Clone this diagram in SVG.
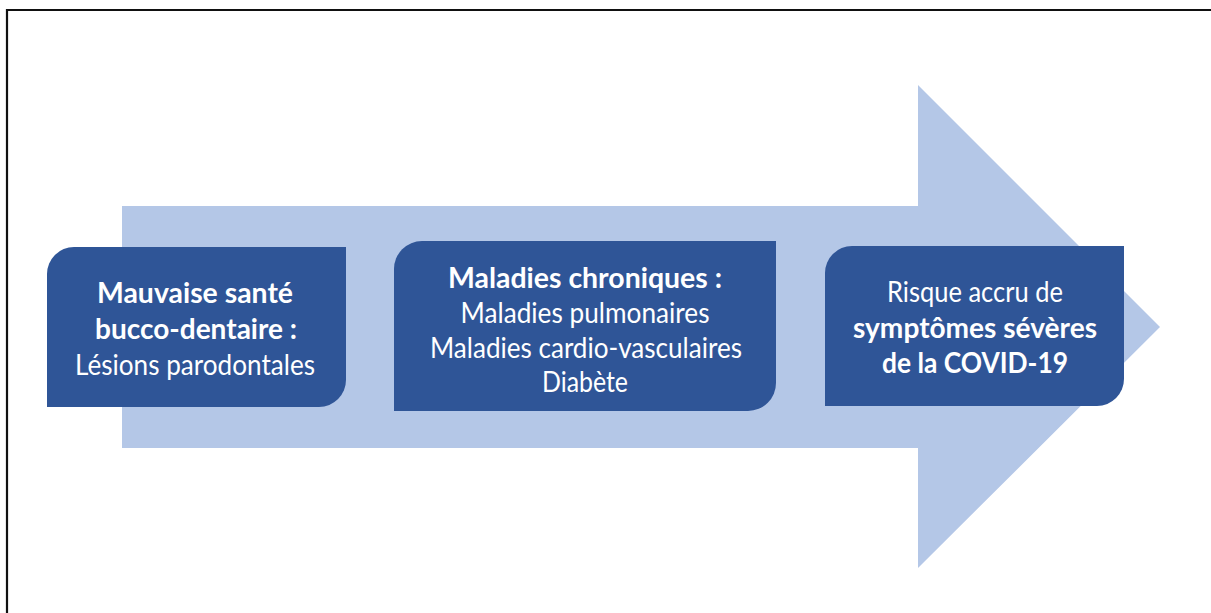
<svg xmlns="http://www.w3.org/2000/svg" width="1211" height="613" viewBox="0 0 1211 613">
<style>
.box{fill:#2F5597;}
.t{font-family:Lato,"Open Sans","Liberation Sans",sans-serif;font-size:28px;fill:#FFFFFF;text-anchor:middle;}
.b{font-weight:bold;}
</style>
<rect x="0" y="0" width="1211" height="613" fill="#FFFFFF"/>
<path d="M7 613 V10 H1211" fill="none" stroke="#111111" stroke-width="2.2"/>
<g id="connectors">
<path id="big-arrow" d="M122 206 H918 V85 L1160 327 L918 568 V448 H122 Z" fill="#B4C7E7"/>
</g>
<g id="node-sante">
<path class="box" d="M74 247 H346 V380 A27 27 0 0 1 319 407 H47 V274 A27 27 0 0 1 74 247 Z"/>
<text class="t b" x="195" y="303" textLength="196" lengthAdjust="spacingAndGlyphs">Mauvaise santé</text>
<text class="t b" x="196" y="339" textLength="202" lengthAdjust="spacingAndGlyphs">bucco-dentaire :</text>
<text class="t" x="195" y="375" textLength="240" lengthAdjust="spacingAndGlyphs">Lésions parodontales</text>
</g>
<g id="node-maladies">
<path class="box" d="M422 241 H776 V383 A28 28 0 0 1 748 411 H394 V269 A28 28 0 0 1 422 241 Z"/>
<text class="t b" x="585" y="288" textLength="274" lengthAdjust="spacingAndGlyphs">Maladies chroniques :</text>
<text class="t" x="585" y="323" textLength="249" lengthAdjust="spacingAndGlyphs">Maladies pulmonaires</text>
<text class="t" x="586" y="358" textLength="312" lengthAdjust="spacingAndGlyphs">Maladies cardio-vasculaires</text>
<text class="t" x="585" y="392" textLength="86" lengthAdjust="spacingAndGlyphs">Diabète</text>
</g>
<g id="node-covid">
<path class="box" d="M852 246 H1124 V379 A27 27 0 0 1 1097 406 H825 V273 A27 27 0 0 1 852 246 Z"/>
<text class="t" x="975" y="302" textLength="176" lengthAdjust="spacingAndGlyphs">Risque accru de</text>
<text class="t b" x="975" y="338" textLength="244" lengthAdjust="spacingAndGlyphs">symptômes sévères</text>
<text class="t b" x="975" y="373" textLength="186" lengthAdjust="spacingAndGlyphs">de la COVID-19</text>
</g>
</svg>
